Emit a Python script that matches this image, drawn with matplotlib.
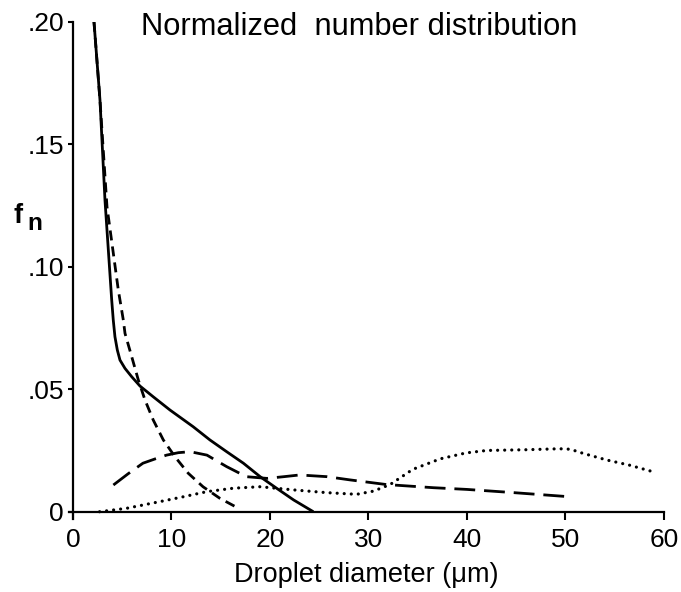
import matplotlib
matplotlib.use("Agg")
import matplotlib.pyplot as plt

plt.rcParams['font.family'] = ['Liberation Sans', 'DejaVu Sans']

# Droplet diameter (um) vs normalized number fraction f_n for four distributions
solid_x = [2.13, 2.74, 3.25, 3.93, 4.09, 4.26, 4.50, 4.77, 5.28, 5.96, 6.80, 8.15,
           9.85, 12.2, 13.9, 15.6, 17.3, 19.0, 20.7, 22.4, 24.4]
solid_y = [0.200, 0.168, 0.127, 0.0864, 0.0782, 0.0714, 0.0660, 0.0619, 0.0585, 0.0551,
           0.0513, 0.0469, 0.0415, 0.0347, 0.0293, 0.0245, 0.0198, 0.0143, 0.0095, 0.0048, 0.0]

dash_x = [2.13, 2.74, 3.45, 4.09, 4.60, 5.11, 5.28, 5.96, 6.63, 7.31, 8.15,
          9.17, 10.36, 11.7, 13.2, 14.9, 16.8]
dash_y = [0.200, 0.168, 0.1245, 0.1056, 0.0905, 0.0782, 0.0728, 0.0633, 0.0538,
          0.0456, 0.0374, 0.0293, 0.0224, 0.0157, 0.0102, 0.0055, 0.0014]

longdash_x = [4.1, 5.6, 7.1, 8.3, 9.5, 10.7, 11.9, 13.6, 15.6, 17.6, 19.7, 21.4, 23.0,
              25.8, 28.1, 31.8, 36.6, 40.0, 44.7, 50.1]
longdash_y = [0.0109, 0.0155, 0.0198, 0.0215, 0.0231, 0.0241, 0.0245, 0.0231, 0.0184,
              0.0143, 0.0136, 0.0143, 0.0150, 0.0143, 0.0130, 0.0111, 0.0098, 0.0091,
              0.0078, 0.0062]

dot_x = [2.7, 5.45, 8.8, 11.2, 13.6, 16.3, 19.0, 22.4, 25.7, 28.8, 30.5, 32.2, 34.5,
         37.3, 39.9, 42.0, 46.0, 49.4, 50.5, 51.8, 54.2, 56.5, 58.9]
dot_y = [0.0, 0.0014, 0.0041, 0.0061, 0.0082, 0.0096, 0.0102, 0.0089, 0.0078, 0.0071,
         0.0084, 0.0111, 0.0173, 0.0216, 0.0240, 0.0250, 0.0253, 0.0257, 0.0255, 0.0238,
         0.0211, 0.0190, 0.0163]

x_ticks = [0, 10, 20, 30, 40, 50, 60]
y_ticks = [0, 0.05, 0.10, 0.15, 0.20]
y_tick_labels = ['0', '.05', '.10', '.15', '.20']

fig = plt.figure(figsize=(6.81, 5.92), dpi=100)
ax = fig.add_axes([0.1014, 0.1232, 0.8736, 0.8401])

ax.plot(solid_x, solid_y, color='black', lw=2.0, solid_capstyle='butt')
ax.plot(dash_x, dash_y, color='black', lw=2.0, linestyle=(0, (3.6, 2.2)))
ax.plot(longdash_x, longdash_y, color='black', lw=2.0, linestyle=(0, (7.5, 3.2)))
ax.plot(dot_x, dot_y, color='black', lw=2.3, linestyle=(0, (0.01, 2.2)),
        dash_capstyle='round')

ax.set_xlim(-0.4, 60)
ax.set_ylim(-0.003, 0.2)
for side in ('top', 'right'):
    ax.spines[side].set_visible(False)
ax.spines['left'].set_position(('data', 0))
ax.spines['bottom'].set_position(('data', 0))
ax.spines['left'].set_bounds(-0.003, 0.2)
ax.spines['bottom'].set_bounds(-0.4, 60)
for side in ('left', 'bottom'):
    ax.spines[side].set_linewidth(1.6)

ax.set_xticks(x_ticks)
ax.set_yticks(y_ticks)
ax.set_yticklabels(y_tick_labels)
ax.tick_params(axis='x', direction='out', length=6, width=1.5, labelsize=19, pad=6)
ax.tick_params(axis='y', direction='out', length=3.6, width=1.5, labelsize=19, pad=3)

ax.set_xlabel('Droplet diameter (\u03bcm)', fontsize=19.5, labelpad=7)

fig.text(359 / 681, 1 - 35 / 592, 'Normalized  number distribution',
         fontsize=22.2, ha='center', va='baseline')

fig.text(13 / 681, 1 - 223 / 592, 'f', fontsize=19.5, fontweight='bold',
         ha='left', va='baseline')
fig.text(27 / 681, 1 - 230 / 592, 'n', fontsize=17.5, fontweight='bold',
         ha='left', va='baseline')

fig.savefig('out.png', dpi=100)
